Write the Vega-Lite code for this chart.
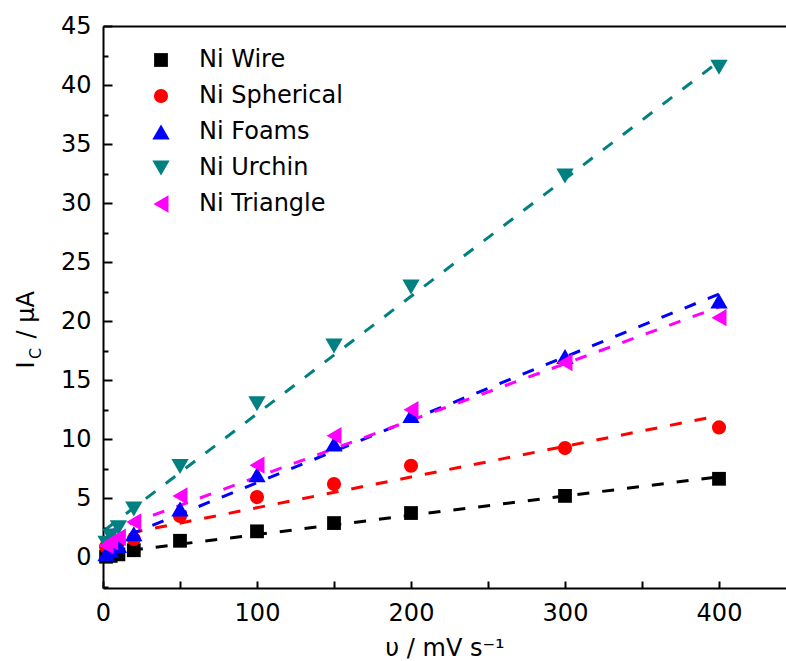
{
  "$schema": "https://vega.github.io/schema/vega-lite/v6.json",
  "width": 683,
  "height": 562,
  "autosize": "none",
  "padding": {"left": 103, "top": 26, "right": 0, "bottom": 73},
  "background": "white",
  "config": {
    "view": {"stroke": null},
    "font": "DejaVu Sans",
    "axis": {
      "domainColor": "black", "domainWidth": 2, "tickColor": "black", "tickWidth": 2,
      "labelColor": "black", "titleColor": "black", "labelFont": "DejaVu Sans", "titleFont": "DejaVu Sans",
      "labelFontSize": 24, "titleFontSize": 24, "titleFontWeight": "normal", "grid": false
    },
    "legend": {
      "orient": "none", "legendX": 46, "legendY": 22, "padding": 0,
      "labelFont": "DejaVu Sans", "labelFontSize": 24, "labelColor": "black",
      "symbolStrokeWidth": 0, "labelOffset": 26, "rowPadding": 12
    }
  },
  "datasets": {
    "pts": [
      {"sample": "Ni Wire", "v": 2, "ic": 0.05}, {"sample": "Ni Wire", "v": 5, "ic": 0.12}, {"sample": "Ni Wire", "v": 10, "ic": 0.25},
      {"sample": "Ni Wire", "v": 20, "ic": 0.6}, {"sample": "Ni Wire", "v": 50, "ic": 1.4}, {"sample": "Ni Wire", "v": 100, "ic": 2.2},
      {"sample": "Ni Wire", "v": 150, "ic": 2.9}, {"sample": "Ni Wire", "v": 200, "ic": 3.75}, {"sample": "Ni Wire", "v": 300, "ic": 5.2},
      {"sample": "Ni Wire", "v": 400, "ic": 6.65},
      {"sample": "Ni Spherical", "v": 2, "ic": 0.9}, {"sample": "Ni Spherical", "v": 5, "ic": 1.1}, {"sample": "Ni Spherical", "v": 10, "ic": 1.3},
      {"sample": "Ni Spherical", "v": 20, "ic": 1.55}, {"sample": "Ni Spherical", "v": 50, "ic": 3.5}, {"sample": "Ni Spherical", "v": 100, "ic": 5.1},
      {"sample": "Ni Spherical", "v": 150, "ic": 6.2}, {"sample": "Ni Spherical", "v": 200, "ic": 7.75}, {"sample": "Ni Spherical", "v": 300, "ic": 9.25},
      {"sample": "Ni Spherical", "v": 400, "ic": 11.0},
      {"sample": "Ni Foams", "v": 2, "ic": 0.3}, {"sample": "Ni Foams", "v": 5, "ic": 0.6}, {"sample": "Ni Foams", "v": 10, "ic": 1.0},
      {"sample": "Ni Foams", "v": 20, "ic": 2.0}, {"sample": "Ni Foams", "v": 50, "ic": 4.1}, {"sample": "Ni Foams", "v": 100, "ic": 7.0},
      {"sample": "Ni Foams", "v": 150, "ic": 9.6}, {"sample": "Ni Foams", "v": 200, "ic": 12.0}, {"sample": "Ni Foams", "v": 300, "ic": 17.0},
      {"sample": "Ni Foams", "v": 400, "ic": 21.7},
      {"sample": "Ni Urchin", "v": 2, "ic": 1.2}, {"sample": "Ni Urchin", "v": 5, "ic": 1.8}, {"sample": "Ni Urchin", "v": 10, "ic": 2.5},
      {"sample": "Ni Urchin", "v": 20, "ic": 4.1}, {"sample": "Ni Urchin", "v": 50, "ic": 7.7}, {"sample": "Ni Urchin", "v": 100, "ic": 13.0},
      {"sample": "Ni Urchin", "v": 150, "ic": 17.9}, {"sample": "Ni Urchin", "v": 200, "ic": 22.9}, {"sample": "Ni Urchin", "v": 300, "ic": 32.3},
      {"sample": "Ni Urchin", "v": 400, "ic": 41.5},
      {"sample": "Ni Triangle", "v": 2, "ic": 1.0}, {"sample": "Ni Triangle", "v": 5, "ic": 1.3}, {"sample": "Ni Triangle", "v": 10, "ic": 1.7},
      {"sample": "Ni Triangle", "v": 20, "ic": 3.0}, {"sample": "Ni Triangle", "v": 50, "ic": 5.2}, {"sample": "Ni Triangle", "v": 100, "ic": 7.8},
      {"sample": "Ni Triangle", "v": 150, "ic": 10.3}, {"sample": "Ni Triangle", "v": 200, "ic": 12.5}, {"sample": "Ni Triangle", "v": 300, "ic": 16.5},
      {"sample": "Ni Triangle", "v": 400, "ic": 20.3}
    ],
    "fit": [
      {"sample": "Ni Wire", "v": 2, "ic": 0.33}, {"sample": "Ni Wire", "v": 400, "ic": 6.82},
      {"sample": "Ni Spherical", "v": 2, "ic": 1.65}, {"sample": "Ni Spherical", "v": 400, "ic": 12.0},
      {"sample": "Ni Foams", "v": 2, "ic": 1.1}, {"sample": "Ni Foams", "v": 400, "ic": 22.3},
      {"sample": "Ni Urchin", "v": 2, "ic": 2.4}, {"sample": "Ni Urchin", "v": 400, "ic": 42.0},
      {"sample": "Ni Triangle", "v": 2, "ic": 2.1}, {"sample": "Ni Triangle", "v": 400, "ic": 21.2}
    ]
  },
  "layer": [
    {
      "data": {"name": "fit"},
      "mark": {"type": "line", "strokeDash": [12, 13], "strokeWidth": 3},
      "encoding": {
        "x": {"field": "v", "type": "quantitative",
          "scale": {"domain": [0, 443.5], "nice": false, "zero": false},
          "axis": {"orient": "bottom", "values": [0, 50, 100, 150, 200, 250, 300, 350, 400], "tickSize": -7,
            "labelExpr": "datum.value % 100 === 0 ? datum.label : ''", "labelPadding": 20, "labelBaseline": "top",
            "labelFlush": false, "labelOverlap": false,
            "title": "υ / mV s⁻¹", "titleBaseline": "alphabetic", "titleY": 67}},
        "y": {"field": "ic", "type": "quantitative",
          "scale": {"domain": [-2.6, 45], "nice": false, "zero": false},
          "axis": {"orient": "left", "values": [-2.5, 0, 2.5, 5, 7.5, 10, 12.5, 15, 17.5, 20, 22.5, 25, 27.5, 30, 32.5, 35, 37.5, 40, 42.5, 45],
            "tickSize": {"condition": {"test": "datum.value % 5 === 0", "value": -9}, "value": -5},
            "labelExpr": "datum.value % 5 === 0 ? datum.label : ''", "labelPadding": 21, "labelFlush": false, "labelOverlap": false,
            "title": "I\u00a0\u00a0\u00a0/ μA", "titleAngle": -90, "titleAlign": "left", "titleBaseline": "alphabetic", "titleX": -70, "titleY": 342}},
        "color": {"field": "sample", "type": "nominal",
          "scale": {"domain": ["Ni Wire", "Ni Spherical", "Ni Foams", "Ni Urchin", "Ni Triangle"], "range": ["#000000", "#ff0000", "#0000ff", "#008080", "#ff00ff"]},
          "legend": null}
      }
    },
    {
      "data": {"name": "pts"},
      "mark": {"type": "point", "filled": true, "opacity": 1},
      "encoding": {
        "x": {"field": "v", "type": "quantitative",
          "axis": {"orient": "top", "labels": false, "ticks": false, "domain": true, "title": null}},
        "y": {"field": "ic", "type": "quantitative",
          "axis": {"orient": "left", "labels": false, "ticks": false, "domain": false, "title": "C", "titleFontSize": 16,
            "titleAngle": -90, "titleAlign": "center", "titleBaseline": "alphabetic", "titleX": -63, "titleY": 327}},
        "color": {"field": "sample", "type": "nominal",
          "scale": {"domain": ["Ni Wire", "Ni Spherical", "Ni Foams", "Ni Urchin", "Ni Triangle"], "range": ["#000000", "#ff0000", "#0000ff", "#008080", "#ff00ff"]},
          "legend": {"title": null}},
        "shape": {"field": "sample", "type": "nominal",
          "scale": {"domain": ["Ni Wire", "Ni Spherical", "Ni Foams", "Ni Urchin", "Ni Triangle"], "range": ["square", "circle", "triangle-up", "triangle-down", "triangle-left"]},
          "legend": {"title": null}},
        "size": {"field": "sample", "type": "nominal",
          "scale": {"type": "ordinal", "domain": ["Ni Wire", "Ni Spherical", "Ni Foams", "Ni Urchin", "Ni Triangle"], "range": [190, 200, 300, 300, 300]},
          "legend": {"title": null}}
      }
    }
  ],
  "resolve": {"axis": {"x": "independent", "y": "independent"}, "legend": {"color": "independent", "shape": "independent", "size": "independent"}}
}
